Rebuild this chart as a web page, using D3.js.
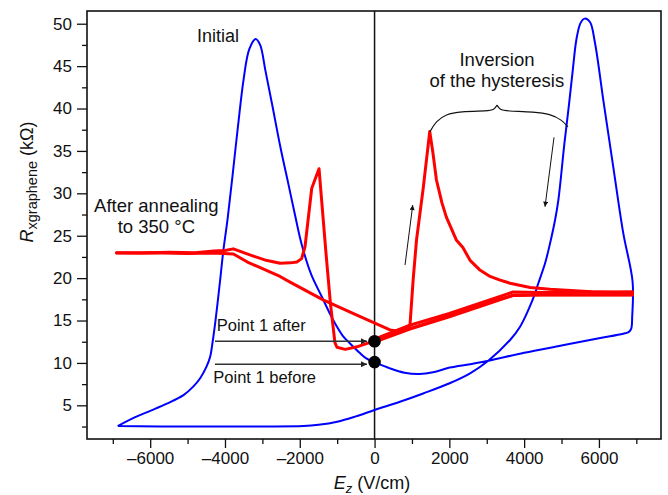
<!DOCTYPE html>
<html><head><meta charset="utf-8">
<script src="https://cdn.jsdelivr.net/npm/d3@7"></script>
<style>
body{margin:0;background:#fff;}
text{font-family:"Liberation Sans",Arial,sans-serif;fill:#111;}
</style></head><body>
<svg id="chart" width="668" height="495"></svg>
<script>
// ---------- data ----------
const xTicksMajor = [-6000,-4000,-2000,0,2000,4000,6000];
const xTicksMinor = [-7000,-5000,-3000,-1000,1000,3000,5000,7000];
const yTicksMajor = [5,10,15,20,25,30,35,40,45,50];
const yTicksMinor = [2.5,7.5,12.5,17.5,22.5,27.5,32.5,37.5,42.5,47.5];

// Initial (blue) loop: [E (V/cm), R (kOhm)]
const initialE = [-6870,-6400,-6000,-5555,-5110,-4850,-4664,-4500,-4397,-4330,-4263,-4200,-4130,-4045,-3930,-3800,-3650,-3500,-3350,-3180,
  -3060,-2920,-2740,-2520,-2300,-2120,-1950,-1700,-1410,-1100,-850,-656,-400,-210,0,412,800,1200,1564,2008,2554,3040,4000,5000,6000,6650,6780,6860,6890,6900,
  6651,6384,6117,5896,5760,5617,5510,5400,5300,5200,5080,4915,4827,4693,4560,4380,4292,4113,3891,3624,3040,2554,2008,1300,678,0,-500,-1000,-1500,-1900,-3000,-5000,-6870];
const initialR = [2.55,3.6,4.35,5.2,6.2,7.2,8.2,9.5,10.73,12.5,14.67,17.0,19.75,23.2,27.0,32.0,38.0,43.5,47.0,48.2,
  47.5,44.5,40.5,35.5,31.0,27.3,24.0,20.5,17.8,15.0,13.2,12.3,11.2,10.5,10.1,9.36,8.85,8.7,8.9,9.45,9.85,10.25,11.2,12.05,12.9,13.45,13.6,14.0,15.5,19.6,
  25.3,33.1,41.0,47.7,50.2,50.6,50.1,48.2,44.5,40.5,36.0,29.2,26.85,24.1,21.75,19.4,18.2,16.25,14.27,12.7,10.25,8.77,7.6,6.4,5.42,4.45,3.7,3.07,2.7,2.55,2.5,2.5,2.55];

// After annealing (red): forward sweep
const annealFwdE = [-6900,-6200,-5500,-4800,-4300,-4000,-3776,-3500,-3241,-2900,-2528,-2250,-2078,-1950,-1860,-1680,-1485,-1300,-1180,-1060,-1006,-785,-473,0,500,944,
  1032,1122,1298,1476,1560,1654,1800,1920,2186,2362,2554,2806,3089,3338,3624,4159,4693,5800,6900];
const annealFwdR = [23.0,22.95,23.05,23.0,23.2,23.25,23.45,23.0,22.6,22.1,21.75,21.8,21.9,22.3,23.7,30.6,32.9,23.0,17.0,12.4,11.85,11.6,11.9,12.6,13.5,14.25,
  19.8,24.5,30.5,37.3,34.8,31.6,28.9,27.2,24.5,23.6,22.1,21.0,20.2,19.8,19.4,18.9,18.7,18.4,18.25];
// After annealing (red): return sweep
const annealRetE = [6900,6000,5000,4200,3691,3000,2000,1200,700,412,-473,-1362,-2247,-2528,-3400,-3776,-4300,-5000,-6000,-6900];
const annealRetR = [18.0,18.0,18.05,18.0,17.95,17.1,15.6,14.4,13.7,13.9,15.65,17.4,19.5,20.2,21.9,22.85,22.95,22.9,23.0,22.95];
// further overlapping traces of the annealed band
const annealBandAE = [0,944,2000,3691,4500,6900];
const annealBandAR = [12.45,14.0,15.45,17.95,18.05,18.05];
const annealBandBE = [0,944,2000,3691,4500,6900];
const annealBandBR = [12.8,14.45,15.85,18.35,18.3,18.4];

const pointLabels = ["Point 1 after","Point 1 before"];
const pointR = [12.55,10.1];

// ---------- scales ----------
const svg = d3.select("#chart");
const x = d3.scaleLinear().domain([-7690,7660]).range([87,661]);
const y = d3.scaleLinear().domain([1.03,51.5]).range([439,11]);
const zip = (a,b)=>a.map((v,i)=>[v,b[i]]);

// ---------- axes ----------
const fmt = d => d<0 ? "\u2013"+Math.abs(d) : String(d);
function styleAxis(g){ g.select(".domain").remove(); g.selectAll("line").attr("stroke","#111").attr("stroke-width",1.3); g.selectAll("text").style("font-size","17px").attr("fill","#111"); }
svg.append("g").attr("transform","translate(0,439)")
  .call(d3.axisBottom(x).tickValues(xTicksMajor).tickSize(9).tickPadding(4).tickFormat(fmt)).call(styleAxis);
svg.append("g").attr("transform","translate(0,439)")
  .call(d3.axisBottom(x).tickValues(xTicksMinor).tickSize(5).tickFormat("")).call(styleAxis);
svg.append("g").attr("transform","translate(87,0)")
  .call(d3.axisLeft(y).tickValues(yTicksMajor).tickSize(10).tickPadding(5)).call(styleAxis);
svg.append("g").attr("transform","translate(87,0)")
  .call(d3.axisLeft(y).tickValues(yTicksMinor).tickSize(5).tickFormat("")).call(styleAxis);

// zero line
svg.append("line").attr("x1",x(0)).attr("x2",x(0)).attr("y1",y(1.03)).attr("y2",y(51.5))
  .attr("stroke","#111").attr("stroke-width",1.5);

// ---------- curves ----------
const line = d3.line().x(d=>x(d[0])).y(d=>y(d[1]));
svg.append("path").datum(zip(initialE,initialR))
  .attr("d", line.curve(d3.curveCatmullRom.alpha(0.5)))
  .attr("fill","none").attr("stroke","#0000ff").attr("stroke-width",2).attr("stroke-linejoin","round");
const redLine = d3.line().x(d=>x(d[0])).y(d=>y(d[1])).curve(d3.curveLinear);
[[annealBandAE,annealBandAR],[annealBandBE,annealBandBR],[annealRetE,annealRetR],[annealFwdE,annealFwdR]].forEach(([e,r])=>{
  svg.append("path").datum(zip(e,r)).attr("d",redLine)
    .attr("fill","none").attr("stroke","#ff0000").attr("stroke-width",3).attr("stroke-linejoin","round").attr("stroke-linecap","round");
});

// frame
svg.append("rect").attr("x",87).attr("y",11).attr("width",574).attr("height",428)
  .attr("fill","none").attr("stroke","#111").attr("stroke-width",1.6);

// ---------- annotations ----------
const defs = svg.append("defs");
defs.append("marker").attr("id","ah").attr("markerUnits","userSpaceOnUse")
  .attr("viewBox","0 0 10 10").attr("refX",10).attr("refY",5).attr("markerWidth",9).attr("markerHeight",6).attr("orient","auto")
  .append("path").attr("d","M0,0 L10,5 L0,10 z").attr("fill","#222");
defs.append("marker").attr("id","ahs").attr("markerUnits","userSpaceOnUse")
  .attr("viewBox","0 0 10 10").attr("refX",10).attr("refY",5).attr("markerWidth",7).attr("markerHeight",5).attr("orient","auto")
  .append("path").attr("d","M0,0 L10,5 L0,10 z").attr("fill","#111");

// point arrows and dots
const arrowStartE = -4267, arrowEndE = -202;
const arrowR = [12.55, 9.85];
arrowR.forEach(r=>{
  svg.append("line").attr("x1",x(arrowStartE)).attr("x2",x(arrowEndE)).attr("y1",y(r)).attr("y2",y(r))
    .attr("stroke","#333").attr("stroke-width",1.4).attr("marker-end","url(#ah)");
});
pointR.forEach(r=>{
  svg.append("circle").attr("cx",x(0)).attr("cy",y(r)).attr("r",6.3).attr("fill","#000");
});
svg.append("text").attr("x",x(-4221)).attr("y",y(13.8)).style("font-size","16.5px").text(pointLabels[0]);
svg.append("text").attr("x",x(-4312)).attr("y",y(7.67)).style("font-size","16.5px").text(pointLabels[1]);

// direction arrows
svg.append("line").attr("x1",x(815)).attr("y1",y(21.55)).attr("x2",x(1021)).attr("y2",y(28.62))
  .attr("stroke","#111").attr("stroke-width",1).attr("marker-end","url(#ahs)");
svg.append("line").attr("x1",x(4799)).attr("y1",y(36.6)).attr("x2",x(4558)).attr("y2",y(28.42))
  .attr("stroke","#111").attr("stroke-width",1).attr("marker-end","url(#ahs)");

// brace
const braceLeft = [[1479,37.24],[1640,38.5],[1907,39.33],[2285,39.65],[3034,39.71],[3195,39.83],[3275,40.41]];
const braceRight = [[3275,40.41],[3355,39.83],[3515,39.71],[4290,39.59],[4691,39.36],[5012,38.65],[5172,37.83]];
const braceLine = d3.line().x(d=>x(d[0])).y(d=>y(d[1])).curve(d3.curveBasis);
[braceLeft,braceRight].forEach(b=>svg.append("path").datum(b).attr("d",braceLine).attr("fill","none").attr("stroke","#111").attr("stroke-width",1.1));

// text labels
const t = (E,R,s,size,anchor)=>svg.append("text").attr("x",x(E)).attr("y",y(R)).attr("text-anchor",anchor||"middle").style("font-size",size).text(s);
t(-4187,47.81,"Initial","18px");
t(-5836,27.76,"After annealing","18.5px");
t(-5836,25.29,"to 350 \u00b0C","18.5px");
t(3275,45.03,"Inversion","18.5px");
t(3270,42.55,"of the hysteresis","18.5px");

// axis titles
const xl = svg.append("text").attr("x",372).attr("y",489).attr("text-anchor","middle").style("font-size","18px");
xl.append("tspan").style("font-style","italic").text("E");
xl.append("tspan").attr("dy",4).style("font-size","13px").style("font-style","italic").text("z");
xl.append("tspan").attr("dy",-4).text(" (V/cm)");
const yl = svg.append("text").attr("transform","translate(33,182) rotate(-90)").attr("text-anchor","middle").style("font-size","18px");
yl.append("tspan").style("font-style","italic").text("R");
yl.append("tspan").attr("dy",4).style("font-size","14.5px").text("xgraphene");
yl.append("tspan").attr("dy",-4).text(" (k\u03a9)");
</script>
</body></html>
